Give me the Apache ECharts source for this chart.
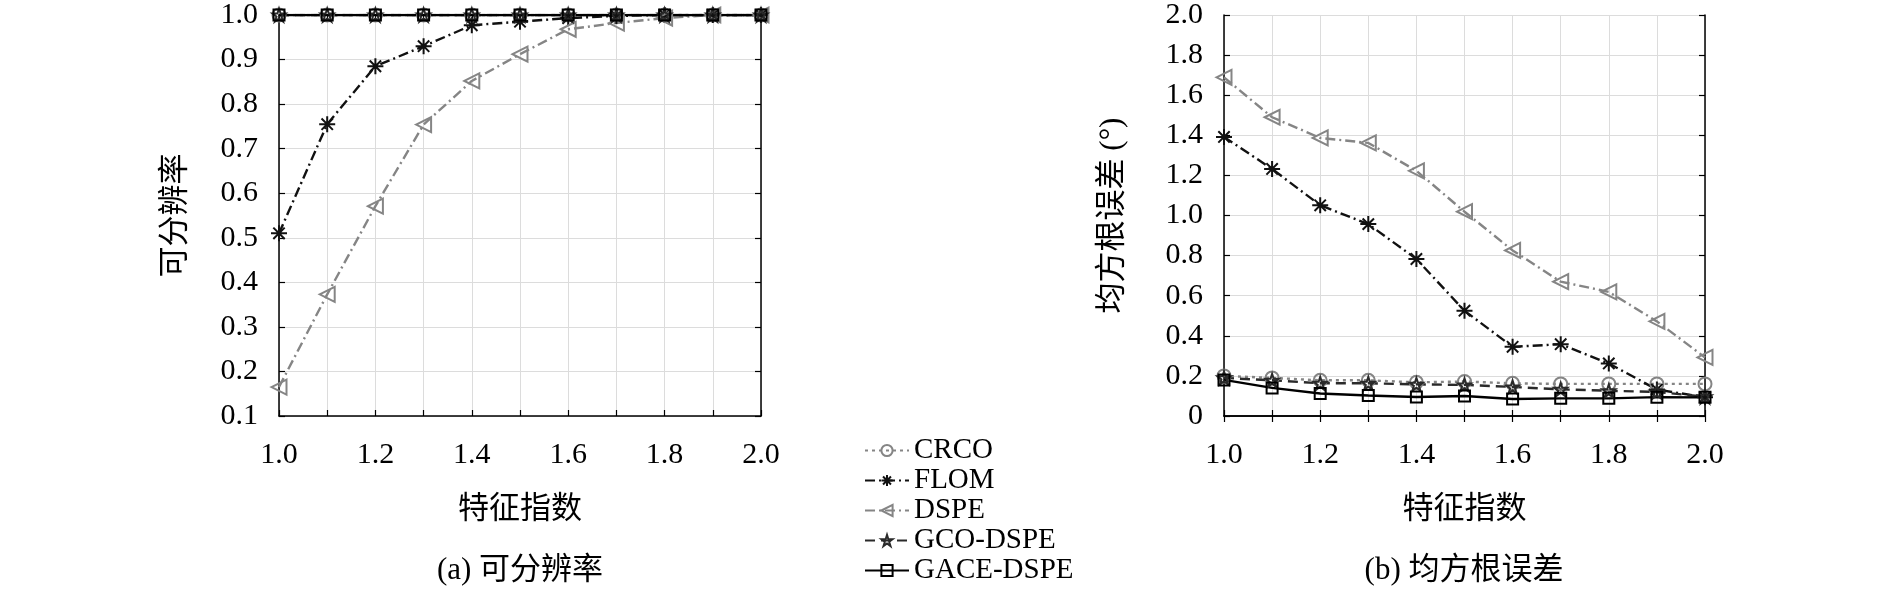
<!DOCTYPE html>
<html>
<head>
    <meta charset="utf-8">
    <title>可分辨率 / 均方根误差</title>
    <script src="https://cdn.jsdelivr.net/npm/echarts@6/dist/echarts.min.js"></script>
    <style>
        html, body {margin: 0; padding: 0; background: #fff;}
        #chart {width: 1890px; height: 593px;}
    </style>
</head>
<body>
<div id="chart"></div>
<script>
    // 特征指数
    var alphas = [1.0, 1.1, 1.2, 1.3, 1.4, 1.5, 1.6, 1.7, 1.8, 1.9, 2.0];
    var seriesNames = ['CRCO', 'FLOM', 'DSPE', 'GCO-DSPE', 'GACE-DSPE'];

    // (a) 可分辨率
    var resCRCO = [1, 1, 1, 1, 1, 1, 1, 1, 1, 1, 1];
    var resFLOM = [0.51, 0.755, 0.885, 0.93, 0.977, 0.985, 0.993, 0.998, 1, 1, 1];
    var resDSPE = [0.165, 0.373, 0.571, 0.754, 0.852, 0.912, 0.968, 0.982, 0.993, 1, 1];
    var resGCO = [1, 1, 1, 1, 1, 1, 1, 1, 1, 1, 1];
    var resGACE = [1, 1, 1, 1, 1, 1, 1, 1, 1, 1, 1];

    // (b) 均方根误差 (°)
    var rmseCRCO = [0.2, 0.19, 0.178, 0.178, 0.168, 0.172, 0.163, 0.16, 0.16, 0.16, 0.16];
    var rmseFLOM = [1.392, 1.232, 1.051, 0.957, 0.783, 0.525, 0.345, 0.358, 0.262, 0.132, 0.094];
    var rmseDSPE = [1.689, 1.49, 1.387, 1.362, 1.223, 1.019, 0.826, 0.67, 0.619, 0.472, 0.292];
    var rmseGCO = [0.19, 0.178, 0.163, 0.163, 0.158, 0.155, 0.145, 0.133, 0.126, 0.12, 0.096];
    var rmseGACE = [0.18, 0.14, 0.112, 0.102, 0.095, 0.1, 0.085, 0.088, 0.088, 0.094, 0.093];

    // 刻度
    var resTicks = {min: 0.1, max: 1.0, interval: 0.1};
    var rmseTicks = {min: 0, max: 2.0, interval: 0.2};

    var serif = "'Liberation Serif', 'Noto Sans CJK SC', serif";

    var asterisk = 'path://M10,0L10,20M0,10L20,10M2.9,2.9L17.1,17.1M2.9,17.1L17.1,2.9';
    var pentagram = 'path://M10,0L12.35,7.1L19.8,7.1L13.8,11.5L16.1,18.6L10,14.2L3.9,18.6L6.2,11.5L0.2,7.1L7.65,7.1Z';

    var styles = {
        'CRCO': {color: '#858585', type: [3, 4], symbol: 'circle', size: 13, rotate: 0},
        'FLOM': {color: '#111', type: [10, 4, 2, 4], symbol: asterisk, size: 16, rotate: 0},
        'DSPE': {color: '#858585', type: [10, 4, 2, 4], symbol: 'triangle', size: 15, rotate: 90},
        'GCO-DSPE': {color: '#2a2a2a', type: [10, 6], symbol: pentagram, size: 13, rotate: 0},
        'GACE-DSPE': {color: '#000', type: 'solid', symbol: 'rect', size: 11, rotate: 0}
    };

    function pairs(ys) {
        return alphas.map(function (x, i) {
            return [x, ys[i]];
        });
    }

    function makeSeries(name, ys, idx) {
        var s = styles[name];
        return {
            name: name,
            type: 'line',
            xAxisIndex: idx,
            yAxisIndex: idx,
            data: pairs(ys),
            symbol: s.symbol,
            symbolSize: s.size,
            symbolRotate: s.rotate,
            showAllSymbol: true,
            lineStyle: {color: s.color, width: 2.4, type: s.type},
            // 空心标记: 透明填充 + 描边
            itemStyle: {
                color: name === 'FLOM' ? s.color : 'rgba(255,255,255,0)',
                borderColor: s.color,
                borderWidth: 2
            },
            emphasis: {disabled: true},
            animation: false
        };
    }

    function xAxisOf(grid) {
        return {
            type: 'value', gridIndex: grid, min: 1, max: 2, interval: 0.1,
            name: '特征指数', nameLocation: 'middle', nameGap: 78,
            nameTextStyle: {fontFamily: serif, fontSize: 31, color: '#000'},
            axisLine: {lineStyle: {color: '#000', width: 1.5}},
            axisTick: {inside: true, length: 6, lineStyle: {color: '#000', width: 1.2}},
            axisLabel: {
                fontFamily: serif, fontSize: 30, color: '#000', margin: 24,
                formatter: function (v) {
                    return Math.round(v * 10) % 2 === 0 ? v.toFixed(1) : '';
                }
            },
            splitLine: {show: true, lineStyle: {color: '#dcdcdc', width: 1}}
        };
    }

    function yAxisOf(grid, ticks, name, gap, fmt) {
        return {
            type: 'value', gridIndex: grid, min: ticks.min, max: ticks.max, interval: ticks.interval,
            name: name, nameLocation: 'middle', nameGap: gap, nameRotate: 90,
            nameTextStyle: {fontFamily: serif, fontSize: 31, color: '#000'},
            axisLine: {lineStyle: {color: '#000', width: 1.5}},
            axisTick: {inside: true, length: 6, lineStyle: {color: '#000', width: 1.2}},
            axisLabel: {fontFamily: serif, fontSize: 30, color: '#000', margin: 21, formatter: fmt},
            splitLine: {show: true, lineStyle: {color: '#dcdcdc', width: 1}}
        };
    }

    // 右侧 / 顶部刻度线
    function mirrorX(grid) {
        return {
            type: 'value', gridIndex: grid, min: 1, max: 2, interval: 0.1, position: 'top',
            axisLine: {lineStyle: {color: '#000', width: 1.5}},
            axisTick: {inside: true, length: 6, lineStyle: {color: '#000', width: 1.2}},
            axisLabel: {show: false}, splitLine: {show: false}
        };
    }

    function mirrorY(grid, ticks) {
        return {
            type: 'value', gridIndex: grid, min: ticks.min, max: ticks.max, interval: ticks.interval,
            position: 'right',
            axisLine: {lineStyle: {color: '#000', width: 1.5}},
            axisTick: {inside: true, length: 6, lineStyle: {color: '#000', width: 1.2}},
            axisLabel: {show: false}, splitLine: {show: false}
        };
    }

    var chart = echarts.init(document.getElementById('chart'), null, {renderer: 'canvas'});

    var resData = [resCRCO, resFLOM, resDSPE, resGCO, resGACE];
    var rmseData = [rmseCRCO, rmseFLOM, rmseDSPE, rmseGCO, rmseGACE];
    var series = [];
    seriesNames.forEach(function (n, i) {
        series.push(makeSeries(n, resData[i], 0));
    });
    seriesNames.forEach(function (n, i) {
        series.push(makeSeries(n, rmseData[i], 1));
    });

    var option = {
        backgroundColor: '#fff',
        animation: false,
        grid: [
            {left: 279, top: 15, width: 482, height: 401},
            {left: 1224, top: 15, width: 481, height: 401}
        ],
        xAxis: [xAxisOf(0), xAxisOf(1), mirrorX(0), mirrorX(1)],
        yAxis: [
            yAxisOf(0, resTicks, '可分辨率', 88, function (v) {
                return v.toFixed(1);
            }),
            yAxisOf(1, rmseTicks, '均方根误差 (°)', 96, function (v) {
                return v === 0 ? '0' : v.toFixed(1);
            }),
            mirrorY(0, resTicks),
            mirrorY(1, rmseTicks)
        ],
        legend: {
            orient: 'vertical',
            left: 864,
            top: 436,
            height: 157,
            padding: 0,
            data: seriesNames,
            itemWidth: 44,
            itemHeight: 14,
            itemGap: 1,
            selectedMode: false,
            textStyle: {fontFamily: serif, fontSize: 29, color: '#000', lineHeight: 29}
        },
        graphic: [
            {
                type: 'text',
                style: {
                    text: '(a) 可分辨率', x: 520, y: 571, align: 'center', verticalAlign: 'middle',
                    font: '31px ' + serif, fill: '#000'
                }
            },
            {
                type: 'text',
                style: {
                    text: '(b) 均方根误差', x: 1464, y: 571, align: 'center', verticalAlign: 'middle',
                    font: '31px ' + serif, fill: '#000'
                }
            }
        ],
        series: series
    };

    chart.setOption(option);
    window.onresize = function () {
        chart.resize();
    };
</script>
</body>
</html>
